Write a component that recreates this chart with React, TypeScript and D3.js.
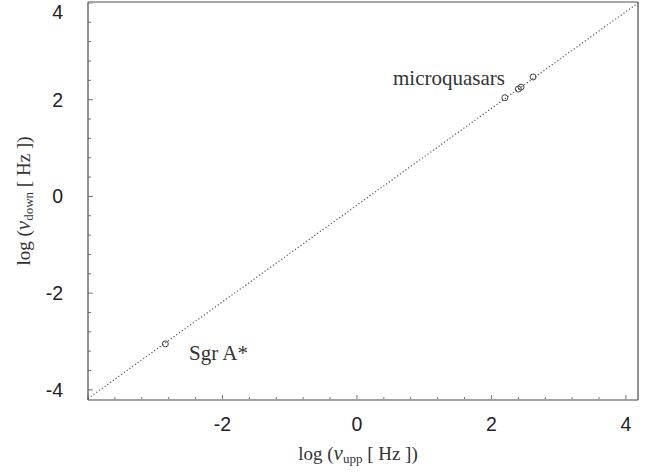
import React, { useEffect, useRef } from 'react';
import * as d3 from 'd3';

// data
const sgrX = [-2.85];
const sgrY = [-3.05];
const mqX = [2.2, 2.4, 2.44, 2.62];
const mqY = [2.04, 2.22, 2.26, 2.47];
const lineX = [-4, 4.18];
const lineY = [-4.18, 4.0];
const majorTicks = [-4, -2, 0, 2, 4];
const tickLabels = ['-4', '-2', '0', '2', '4'];

const W = 648;
const H = 473;

const App = () => {
  const ref = useRef<SVGSVGElement | null>(null);

  useEffect(() => {
    const svg = d3.select(ref.current);
    svg.selectAll('*').remove();

    const left = 88, right = 638, top = 2, bottom = 400;
    const x = d3.scaleLinear().domain([-4, 4.18]).range([left, right]);
    const y = d3.scaleLinear().domain([-4.21, 4.02]).range([bottom, top]);

    const minor = d3.range(-4, 4.01, 0.4);

    // ticks (inside the frame)
    const g = svg.append('g');
    minor.forEach(v => {
      const isMajor = majorTicks.some(m => Math.abs(m - v) < 1e-6);
      const len = isMajor ? 5 : 3;
      g.append('line')
        .attr('x1', x(v)).attr('x2', x(v))
        .attr('y1', bottom).attr('y2', bottom - len)
        .attr('stroke', '#777').attr('stroke-width', 1);
      g.append('line')
        .attr('x1', left).attr('x2', left + len)
        .attr('y1', y(v)).attr('y2', y(v))
        .attr('stroke', '#777').attr('stroke-width', 1);
    });

    // frame
    svg.append('line').attr('x1', left).attr('x2', right).attr('y1', top).attr('y2', top)
      .attr('stroke', '#a8a8a8').attr('stroke-width', 2);
    svg.append('line').attr('x1', left).attr('x2', right).attr('y1', bottom).attr('y2', bottom)
      .attr('stroke', '#a0a0a0').attr('stroke-width', 2);
    svg.append('line').attr('x1', left).attr('x2', left).attr('y1', top).attr('y2', bottom)
      .attr('stroke', '#555').attr('stroke-width', 1.3);
    svg.append('line').attr('x1', right).attr('x2', right).attr('y1', top).attr('y2', bottom)
      .attr('stroke', '#555').attr('stroke-width', 1.3);

    const sans = "'Liberation Sans', Arial, sans-serif";
    const serif = "'Liberation Serif', 'Times New Roman', serif";

    // tick labels
    majorTicks.forEach((v, i) => {
      if (v > -4) {
        svg.append('text')
          .attr('x', x(v)).attr('y', 431)
          .attr('text-anchor', 'middle')
          .attr('font-family', sans)
          .attr('font-size', 19.5).attr('fill', '#222')
          .text(tickLabels[i]);
      }
      svg.append('text')
        .attr('x', 63).attr('y', Math.max(y(v) + 7, 19))
        .attr('text-anchor', 'end')
        .attr('font-family', sans)
        .attr('font-size', 19.5).attr('fill', '#222')
        .text(tickLabels[i]);
    });

    // dotted diagonal
    const pts: [number, number][] = lineX.map((v, i) => [v, lineY[i]]);
    svg.append('path')
      .attr('d', d3.line<[number, number]>().x(d => x(d[0])).y(d => y(d[1]))(pts))
      .attr('fill', 'none').attr('stroke', '#555').attr('stroke-width', 1.2)
      .attr('stroke-dasharray', '1.2,2.2');

    // points
    const allX = sgrX.concat(mqX);
    const allY = sgrY.concat(mqY);
    svg.selectAll('.pt').data(allX).enter().append('circle')
      .attr('class', 'pt')
      .attr('cx', d => x(d)).attr('cy', (d, i) => y(allY[i]))
      .attr('r', 3).attr('fill', 'none').attr('stroke', '#444').attr('stroke-width', 1);

    // annotations
    svg.append('text').attr('x', 393).attr('y', 85)
      .attr('font-family', serif).attr('font-size', 21).attr('fill', '#333')
      .text('microquasars');
    svg.append('text').attr('x', 189).attr('y', 360)
      .attr('font-family', serif).attr('font-size', 21).attr('fill', '#333')
      .text('Sgr A*');

    // axis titles
    const xt = svg.append('text').attr('x', 358).attr('y', 460)
      .attr('text-anchor', 'middle')
      .attr('font-family', serif).attr('font-size', 19).attr('fill', '#333');
    xt.append('tspan').text('log (');
    xt.append('tspan').attr('font-style', 'italic').attr('font-size', 21).text('ν');
    xt.append('tspan').attr('font-size', 13).attr('dy', 3).text('upp');
    xt.append('tspan').attr('dy', -3).text(' [ Hz ])');

    const yt = svg.append('text')
      .attr('transform', 'translate(30,201) rotate(-90)')
      .attr('text-anchor', 'middle')
      .attr('font-family', serif).attr('font-size', 19).attr('fill', '#333');
    yt.append('tspan').text('log (');
    yt.append('tspan').attr('font-style', 'italic').attr('font-size', 21).text('ν');
    yt.append('tspan').attr('font-size', 13).attr('dy', 3).text('down');
    yt.append('tspan').attr('dy', -3).text(' [ Hz ])');
  }, []);

  return (
    <svg ref={ref} width={W} height={H}
      style={{ position: 'absolute', left: 0, top: 0, background: '#fff' }} />
  );
};

export default App;
